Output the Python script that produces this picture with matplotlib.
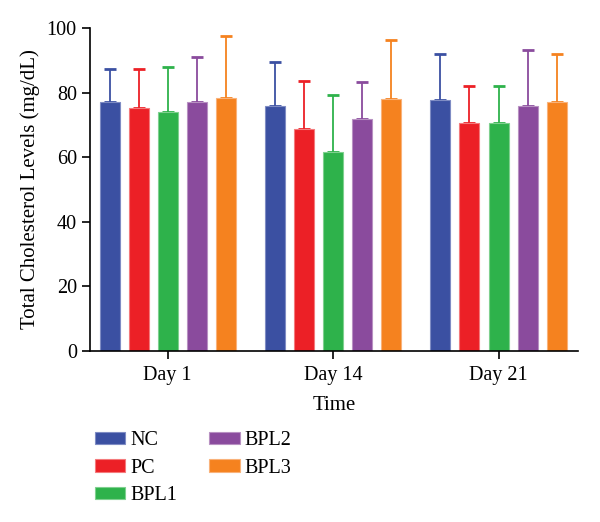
import matplotlib.pyplot as plt
import numpy as np
from matplotlib.patches import Patch

plt.rcParams["font.family"] = ["Liberation Serif", "DejaVu Serif"]

days = ["Day 1", "Day 14", "Day 21"]
groups = ["NC", "PC", "BPL1", "BPL2", "BPL3"]
colors = ["#3B50A2", "#EC2026", "#2EB24B", "#8A4B9D", "#F5821F"]
edge_colors = ["#7F8CC4", "#F47A7C", "#7FD08F", "#B891C2", "#F9B27A"]

# moyennes et erreurs
means = {
    "NC": [77.1, 75.8, 77.6],
    "PC": [75.1, 68.6, 70.7],
    "BPL1": [74.0, 61.6, 70.7],
    "BPL2": [77.1, 71.7, 75.9],
    "BPL3": [78.4, 78.0, 77.1],
}
upper = {
    "NC": [87.4, 89.4, 92.0],
    "PC": [87.2, 83.6, 82.0],
    "BPL1": [88.0, 79.3, 82.0],
    "BPL2": [91.0, 83.4, 93.3],
    "BPL3": [97.5, 96.4, 91.9],
}

fig = plt.figure(figsize=(6.0, 5.22), dpi=100)
ax = fig.add_axes([90 / 600, 1 - 351 / 522, 488 / 600, 323 / 522])

x = np.arange(len(days))
pitch = 0.176
width = 0.121
for i, g in enumerate(groups):
    pos = x + (i - 2) * pitch
    m = np.array(means[g])
    err = np.array(upper[g]) - m
    ax.bar(pos, m, width=width, color=colors[i], edgecolor=edge_colors[i], linewidth=0.8, zorder=2)
    ax.errorbar(pos, m, yerr=[np.zeros_like(err), err], fmt="none", ecolor=colors[i],
                elinewidth=1.3, capsize=4, capthick=2, zorder=1)

ax.set_xlim(-0.47, 2.48)
ax.set_ylim(0, 100)
ax.set_yticks(np.arange(0, 101, 20))
ax.set_xticks(x)
ax.set_xticklabels(days)
ax.spines["top"].set_visible(False)
ax.spines["right"].set_visible(False)
for s in ["left", "bottom"]:
    ax.spines[s].set_linewidth(1.2)
ax.tick_params(axis="both", labelsize=14.5, width=1.2, length=6)
ax.tick_params(axis="x", pad=5)
ax.set_ylabel("Total Cholesterol Levels (mg/dL)", fontsize=15, labelpad=5)
ax.set_xlabel("Time", fontsize=15, labelpad=8)

handles = [Patch(facecolor=c, edgecolor=e, linewidth=0.8) for c, e in zip(colors, edge_colors)]
fig.legend(handles, groups, ncol=2, loc="upper left", bbox_to_anchor=(77 / 600, 1 - 413 / 522),
           frameon=False, fontsize=14.5, handlelength=1.5, handleheight=0.6,
           labelspacing=0.42, columnspacing=1.6, handletextpad=0.25)

fig.savefig("out.png", dpi=100)
